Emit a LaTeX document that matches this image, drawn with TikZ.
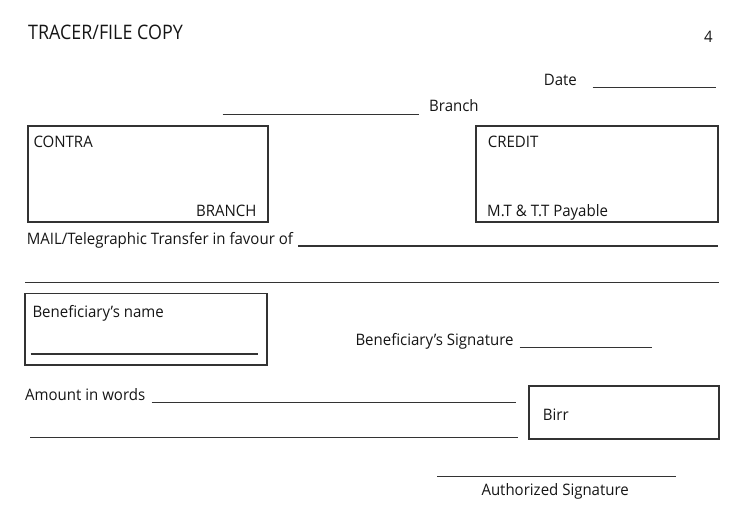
\documentclass[tikz,border=0pt]{standalone}
\usepackage{fontspec}
\setmainfont{Open Sans}
\newfontfamily\bodyfont[FakeStretch=0.95]{Open Sans}
\newfontfamily\headfont[FakeStretch=0.895]{Open Sans}
\definecolor{ink}{HTML}{333333}
\definecolor{tink}{HTML}{151515}
\begin{document}
\begin{tikzpicture}[x=1pt,y=-1pt,
  txt/.style={anchor=base west, inner sep=0pt, text=tink, font=\bodyfont\fontsize{15.8}{19}\selectfont},
  head/.style={txt, font=\headfont\fontsize{20}{24}\selectfont},
  ln/.style={draw=ink, line width=1.4pt},
  boxline/.style={draw=ink, line width=1.6pt}]
\useasboundingbox (0,0) rectangle (744,509);
% header
\node[head] (title) at (28,39) {TRACER/FILE COPY};
\node[txt] (num) at (704,42.7) {4};
% date
\node[txt] (date) at (543.7,85) {Date};
\coordinate (d1) at (592.7,87.3); \coordinate (d2) at (716.3,87.3);
\draw[ln] (d1) -- (d2);
% branch
\coordinate (b1) at (222.7,114.3); \coordinate (b2) at (418.7,114.3);
\draw[ln] (b1) -- (b2);
\node[txt] (branch) at (429,111.7) {Branch};
% contra box
\coordinate (c1) at (27.7,125.7); \coordinate (c2) at (267.7,221.7);
\draw[boxline] (c1) rectangle (c2);
\node[txt] (contra) at (33.3,147.3) {CONTRA};
\node[txt, anchor=base east] (cbranch) at (256.7,216.7) {BRANCH};
% credit box
\coordinate (r1) at (476,126); \coordinate (r2) at (718,221.7);
\draw[boxline] (r1) rectangle (r2);
\node[txt] (credit) at (487.7,147.3) {CREDIT};
\node[txt] (payable) at (487,216.7) {M.T \& T.T Payable};
% mail transfer
\node[txt] (mail) at (26.7,244) {MAIL/Telegraphic Transfer in favour of};
\coordinate (m1) at (298,246); \coordinate (m2) at (718,246);
\draw[ln] (m1) -- (m2);
\coordinate (m3) at (25,282.3); \coordinate (m4) at (719,282.3);
\draw[ln] (m3) -- (m4);
% beneficiary box
\coordinate (e1) at (25,293.3); \coordinate (e2) at (266.7,365);
\draw[boxline] (e1) rectangle (e2);
\node[txt] (bname) at (32.3,317.3) {Beneficiary’s name};
\coordinate (n1) at (30.7,354); \coordinate (n2) at (257.7,354);
\draw[ln] (n1) -- (n2);
% beneficiary signature
\node[txt, anchor=base east] (bsig) at (513.7,345) {Beneficiary’s Signature};
\coordinate (s1) at (519.7,347.7); \coordinate (s2) at (652,347.7);
\draw[ln] (s1) -- (s2);
% amount in words
\node[txt] (amount) at (25,400) {Amount in words};
\coordinate (a1) at (151.7,402.3); \coordinate (a2) at (516,402.3);
\draw[ln] (a1) -- (a2);
\coordinate (a3) at (30,437.7); \coordinate (a4) at (517.7,437.7);
\draw[ln] (a3) -- (a4);
% birr box
\coordinate (y1) at (528.7,386); \coordinate (y2) at (718.7,439);
\draw[boxline] (y1) rectangle (y2);
\node[txt] (birr) at (542.7,420) {Birr};
% authorized signature
\coordinate (u1) at (437,476.7); \coordinate (u2) at (676.3,476.7);
\draw[ln] (u1) -- (u2);
\node[txt] (auth) at (481.3,495.7) {Authorized Signature};
\end{tikzpicture}
\end{document}
